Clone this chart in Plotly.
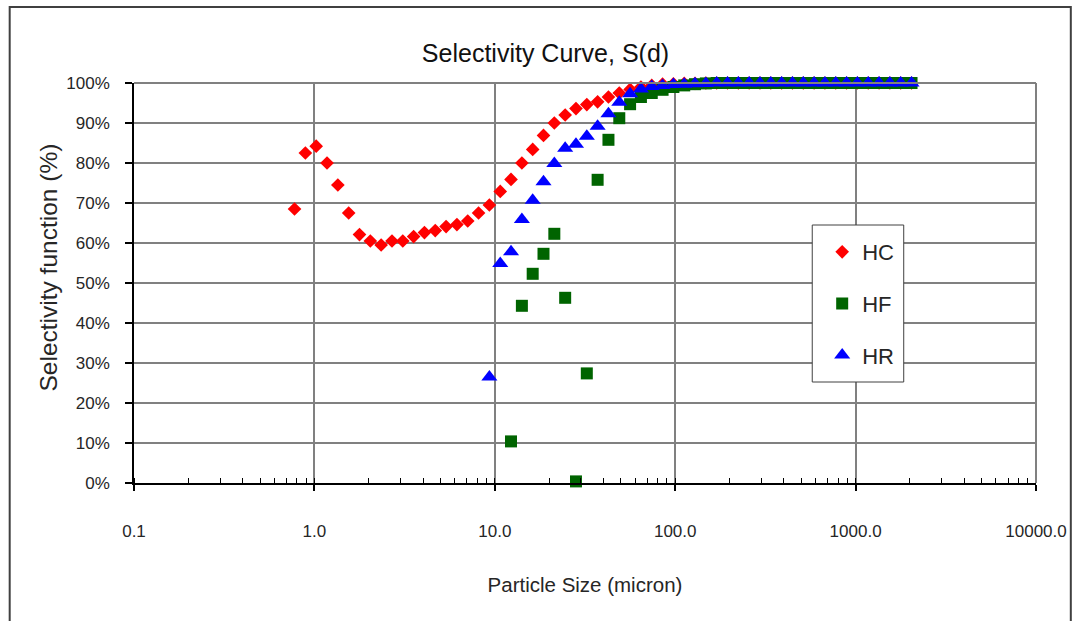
import plotly.graph_objects as go

# Particle size (micron), geometric bin mid-points
size_um = [0.776, 0.891, 1.023, 1.175, 1.349, 1.549, 1.778, 2.042, 2.344, 2.692,
           3.090, 3.548, 4.074, 4.677, 5.370, 6.166, 7.079, 8.128, 9.333, 10.72,
           12.30, 14.13, 16.22, 18.62, 21.38, 24.55, 28.18, 32.36, 37.15, 42.66,
           48.98, 56.23, 64.57, 74.13, 85.11, 97.72, 112.2, 128.8, 147.9, 169.8,
           195.0, 223.9, 257.0, 295.1, 338.8, 389.0, 446.7, 512.9, 588.8, 676.1,
           776.2, 891.3, 1023, 1175, 1349, 1549, 1778, 2042]

hc = [68.5, 82.5, 84.2, 80.0, 74.5, 67.5, 62.1, 60.5, 59.5, 60.5,
      60.5, 61.6, 62.6, 63.1, 64.1, 64.6, 65.5, 67.5, 69.5, 72.9,
      75.9, 80.0, 83.4, 86.9, 90.0, 92.0, 93.6, 94.6, 95.3, 96.5,
      97.5, 98.4, 99.0, 99.4, 99.7, 99.8, 99.9, 99.9, 100, 100,
      100, 100, 100, 100, 100, 100, 100, 100, 100, 100,
      100, 100, 100, 100, 100, 100, 100, 100]

hf = [None, None, None, None, None, None, None, None, None, None,
      None, None, None, None, None, None, None, None, None, None,
      10.4, 44.3, 52.3, 57.3, 62.3, 46.3, 0.4, 27.4, 75.8, 85.8,
      91.2, 94.7, 96.5, 97.5, 98.3, 99.0, 99.4, 99.7, 99.9, 100,
      100, 100, 100, 100, 100, 100, 100, 100, 100, 100,
      100, 100, 100, 100, 100, 100, 100, 100]

hr = [None, None, None, None, None, None, None, None, None, None,
      None, None, None, None, None, None, None, None, 26.5, 54.9,
      57.8, 65.9, 70.7, 75.3, 79.9, 83.7, 84.7, 86.7, 89.2, 92.3,
      95.2, 97.3, 98.5, 99.1, 99.4, 99.6, 99.7, 99.8, 99.9, 100,
      100, 100, 100, 100, 100, 100, 100, 100, 100, 100,
      100, 100, 100, 100, 100, 100, 100, 100]

x_tickvals = [0.1, 1, 10, 100, 1000, 10000]
x_ticktext = ["0.1", "1.0", "10.0", "100.0", "1000.0", "10000.0"]
y_tickvals = [0, 10, 20, 30, 40, 50, 60, 70, 80, 90, 100]
y_ticktext = [f"{v}%" for v in y_tickvals]

FONT = "Liberation Sans, Arial, sans-serif"
TXT = "#262626"

L, R, T, B = 134, 38, 83, 138
W, H = 1079, 621
PW, PH = W - L - R, H - T - B


def px_x(p):
    return (p - L) / PW


def px_y(p):
    return (H - B - p) / PH


fig = go.Figure()
fig.add_trace(go.Scatter(x=size_um, y=hc, mode="markers", name="HC",
                         legendgroup="a", cliponaxis=False,
                         marker=dict(symbol="diamond", size=10.5, color="#FF0000")))
fig.add_trace(go.Scatter(x=size_um, y=hf, mode="markers", name="HF",
                         legendgroup="b", cliponaxis=False,
                         marker=dict(symbol="square", size=12, color="#006400")))
fig.add_trace(go.Scatter(x=size_um, y=hr, mode="markers", name="HR",
                         legendgroup="c", cliponaxis=False,
                         marker=dict(symbol="triangle-up", size=14, color="#0000FF")))

fig.update_layout(
    width=W, height=H,
    margin=dict(l=L, r=R, t=T, b=B),
    paper_bgcolor="white", plot_bgcolor="white",
    font=dict(family=FONT, color=TXT),
    title=dict(text="Selectivity Curve, S(d)", x=545.5 / W, xref="container",
               xanchor="center", y=1 - 53 / H, yanchor="middle",
               font=dict(size=25, color="#111111")),
    xaxis=dict(type="log", range=[-1, 4],
               tickvals=x_tickvals, ticktext=x_ticktext,
               showline=True, linecolor="black", linewidth=1.5,
               ticks="outside", ticklen=6, tickwidth=1.5, tickcolor="black",
               showgrid=True, gridcolor="#808080", gridwidth=1.6,
               zeroline=False,
               minor=dict(ticks="inside", ticklen=5, tickwidth=1, tickcolor="black",
                          dtick="D1", showgrid=False),
               tickfont=dict(size=17, color=TXT),
               ticklabelstandoff=26,
               title=dict(text="Particle Size (micron)", font=dict(size=20.5, color=TXT),
                          standoff=37)),
    yaxis=dict(range=[0, 100], tickvals=y_tickvals, ticktext=y_ticktext,
               showline=True, linecolor="black", linewidth=1.5,
               ticks="outside", ticklen=7, tickwidth=1.5, tickcolor="black",
               showgrid=True, gridcolor="#808080", gridwidth=1.6,
               zeroline=False,
               tickfont=dict(size=17, color=TXT),
               ticklabelstandoff=12),
    legend=dict(x=px_x(826), xanchor="left",
                y=px_y(231), yanchor="top",
                bgcolor="rgba(0,0,0,0)", borderwidth=0,
                font=dict(size=22, color=TXT),
                traceorder="grouped", tracegroupgap=20,
                itemwidth=30),
    annotations=[
        dict(text="Selectivity function (%)", xref="paper", yref="paper",
             x=px_x(48), y=px_y(267), xanchor="center", yanchor="middle",
             textangle=-90, showarrow=False, font=dict(size=24.5, color=TXT)),
    ],
    shapes=[
        dict(type="line", xref="paper", yref="paper", x0=0, x1=1, y0=1, y1=1,
             line=dict(color="#808080", width=2)),
        dict(type="line", xref="paper", yref="paper", x0=1, x1=1, y0=0, y1=1,
             line=dict(color="#808080", width=2)),
        dict(type="rect", xref="paper", yref="paper",
             x0=px_x(9), x1=px_x(1076), y0=px_y(630), y1=px_y(7),
             line=dict(color="#404040", width=2), layer="below"),
        dict(type="rect", xref="paper", yref="paper",
             x0=px_x(816), x1=px_x(908), y0=px_y(382), y1=px_y(225),
             line=dict(color="#404040", width=1), fillcolor="white", layer="above"),
    ],
)

fig.write_html("out.html")
